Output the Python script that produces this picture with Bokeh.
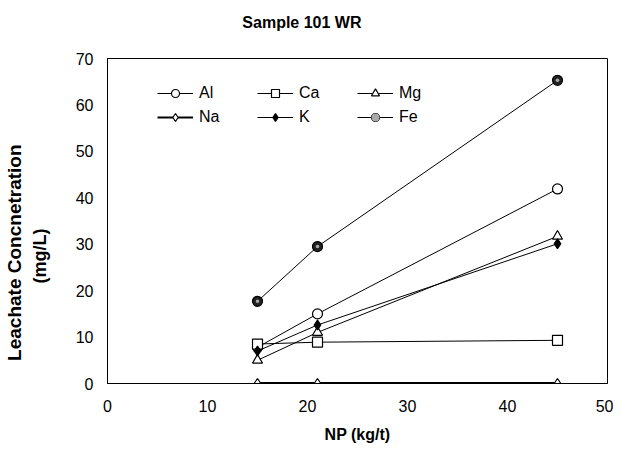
from bokeh.plotting import figure
from bokeh.models import Range1d, Legend, LegendItem, FixedTicker, LinearAxis
from bokeh.embed import file_html
from bokeh.resources import INLINE

np_x = [15, 21, 45]
al = [7.8, 15.0, 41.9]
ca = [8.5, 8.9, 9.3]
mg = [5.0, 11.0, 31.7]
na = [0.1, 0.1, 0.1]
k = [7.0, 12.6, 30.1]
fe = [17.7, 29.5, 65.3]

x_ticks = [0, 10, 20, 30, 40, 50]
y_ticks = [0, 10, 20, 30, 40, 50, 60, 70]

FONT = "Liberation Sans"
TITLE = "Sample 101 WR"

p = figure(width=613, height=446, output_backend="svg", toolbar_location=None,
           x_range=Range1d(0, 50), y_range=Range1d(0, 70),
           min_border_left=107, min_border_right=6, min_border_top=58, min_border_bottom=63)
p.background_fill_color = "white"
p.border_fill_color = "white"
p.outline_line_color = "black"
p.outline_line_width = 1
p.xgrid.visible = False
p.ygrid.visible = False

for ax in (p.xaxis[0], p.yaxis[0]):
    ax.major_tick_line_color = None
    ax.minor_tick_line_color = None
    ax.axis_line_color = "black"
    ax.major_label_text_font = FONT
    ax.major_label_text_font_size = "16px"
    ax.major_label_text_color = "black"
    ax.axis_label_text_font = FONT
    ax.axis_label_text_font_style = "bold"
    ax.axis_label_text_color = "black"
p.xaxis.ticker = FixedTicker(ticks=x_ticks)
p.yaxis.ticker = FixedTicker(ticks=y_ticks)
p.xaxis.major_label_standoff = 10
p.yaxis.major_label_standoff = 8

p.xaxis.axis_label = "NP (kg/t)"
p.xaxis.axis_label_text_font_size = "16px"
p.xaxis.axis_label_standoff = 11

p.yaxis.axis_label = "(mg/L)" + " " * 14
p.yaxis.axis_label_text_font_size = "18px"
p.yaxis.axis_label_standoff = 23

outer = LinearAxis(ticker=FixedTicker(ticks=[]), axis_line_color=None,
                   major_tick_line_color=None, minor_tick_line_color=None,
                   axis_label="Leachate Concnetration" + " " * 12,
                   axis_label_text_font=FONT, axis_label_text_font_size="19px",
                   axis_label_text_font_style="bold", axis_label_text_color="black",
                   axis_label_standoff=2)
p.add_layout(outer, "left")

# chart title, drawn as the label of a tick-less axis above the frame
top = LinearAxis(ticker=FixedTicker(ticks=[]), axis_line_color=None,
                 major_tick_line_color=None, minor_tick_line_color=None,
                 axis_label=TITLE + " " * 25,
                 axis_label_text_font=FONT, axis_label_text_font_size="16px",
                 axis_label_text_font_style="bold", axis_label_text_color="black",
                 axis_label_standoff=28)
p.add_layout(top, "above")

items = []

def series(name, ys, marker, size, fill, lw=1.0):
    r_line = p.line(np_x, ys, line_color="black", line_width=lw)
    r_pt = p.scatter(np_x, ys, marker=marker, size=size, line_color="black",
                     fill_color=fill, line_width=1.2)
    items.append(LegendItem(label=name, renderers=[r_line, r_pt]))
    return r_line, r_pt

series("Al", al, "circle", 10, "white")
series("Ca", ca, "square", 10, "white")
series("Mg", mg, "triangle", 10, "white")
series("Na", na, "diamond", 9, "white", lw=2.0)
series("K", k, "diamond", 10, "black")
series("Fe", fe, "circle", 10, "#222222")
dot = p.scatter(np_x, fe, marker="circle", size=3.5, line_color=None, fill_color="#aaaaaa")
items[-1].renderers.append(dot)

legend = Legend(items=items, ncols=3, location=(50, 256), orientation="horizontal",
                glyph_width=36, glyph_height=20, label_width=54, label_height=20,
                label_standoff=6, spacing=4, padding=0, margin=0,
                border_line_color=None, background_fill_alpha=0,
                label_text_font=FONT, label_text_font_size="16px",
                label_text_color="black")
p.add_layout(legend, "center")

open("out.html", "w").write(file_html(p, INLINE))
